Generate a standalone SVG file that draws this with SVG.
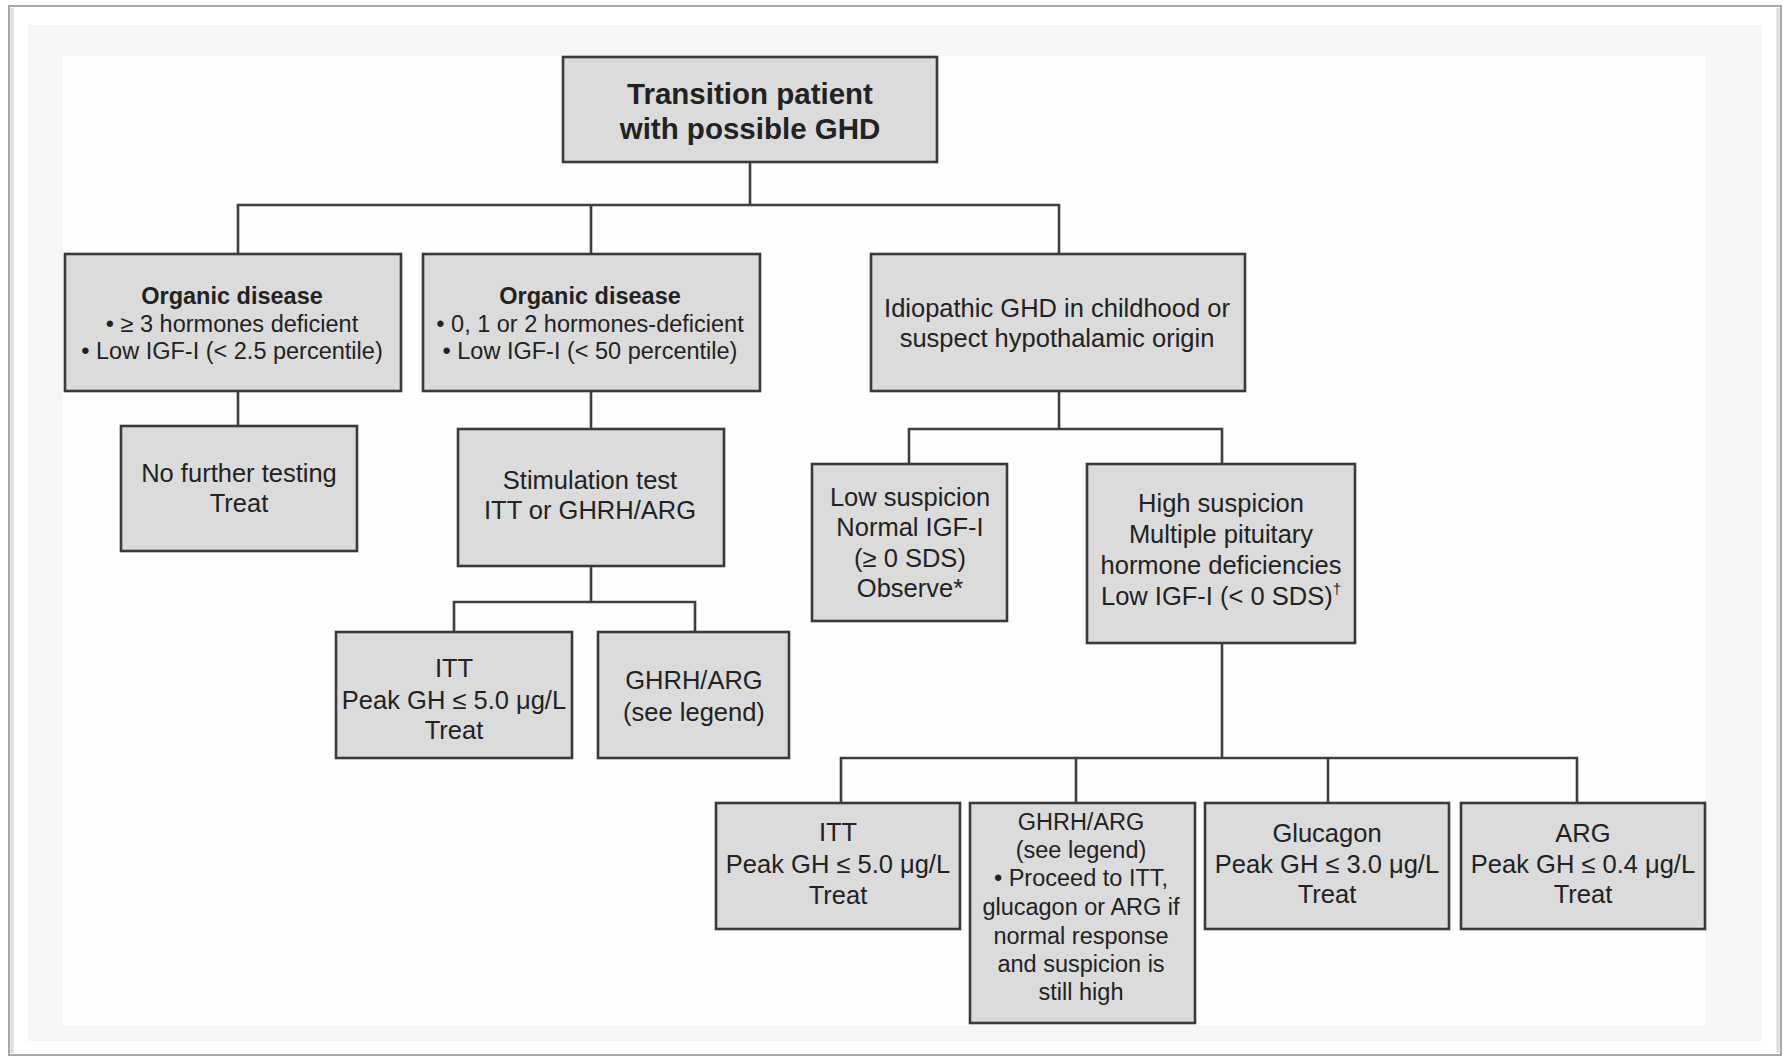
<svg xmlns="http://www.w3.org/2000/svg" width="1783" height="1057" viewBox="0 0 1783 1057">
<style>
.bg{fill:#ffffff}
.node rect{fill:#dbdbdb;stroke:#3a3a3a;stroke-width:2.6}
text{font-family:"Liberation Sans",Arial,Helvetica,sans-serif;fill:#222;text-anchor:middle}
.t{font-size:25.5px}
.s{font-size:23.5px}
.b{font-weight:bold}
.h{font-size:29.5px;font-weight:bold}
.sup{font-size:15px}
#connectors path{fill:none;stroke:#3f3f3f;stroke-width:2.6}
</style>
<rect x="0" y="0" width="1783" height="1057" fill="#ffffff"/>
<rect x="9" y="6" width="1772" height="1049" fill="#ffffff" stroke="#a8a8a8" stroke-width="2"/>
<line x1="12" y1="8" x2="12" y2="1053" stroke="#dcdcdc" stroke-width="3"/>
<line x1="1778" y1="8" x2="1778" y2="1053" stroke="#dcdcdc" stroke-width="3"/>
<rect x="28" y="25" width="1734" height="1016" fill="#f6f6f6"/>
<rect x="63" y="56" width="1642" height="969" fill="#fefefe"/>

<g id="connectors">
<path d="M750 162 V205"/>
<path d="M238 254 V205 H1059 V254"/>
<path d="M591 205 V254"/>
<path d="M238 391 V426"/>
<path d="M591 391 V429"/>
<path d="M591 566 V602"/>
<path d="M454 632 V602 H695 V632"/>
<path d="M1059 391 V429"/>
<path d="M909 464 V429 H1222 V464"/>
<path d="M1222 643 V758"/>
<path d="M841 803 V758 H1577 V803"/>
<path d="M1076 758 V803"/>
<path d="M1328 758 V803"/>
</g>

<g id="n-top" class="node">
<rect x="563" y="57" width="374" height="105"/>
<text class="h" x="750" y="104">Transition patient</text>
<text class="h" x="750" y="139">with possible GHD</text>
</g>

<g id="n-organic1" class="node">
<rect x="65" y="254" width="336" height="137"/>
<text class="s b" x="232" y="303.5">Organic disease</text>
<text class="s" x="232" y="331.5">• ≥ 3 hormones deficient</text>
<text class="s" x="232" y="358.5">• Low IGF-I (&lt; 2.5 percentile)</text>
</g>

<g id="n-organic2" class="node">
<rect x="423" y="254" width="337" height="137"/>
<text class="s b" x="590" y="303.5">Organic disease</text>
<text class="s" x="590" y="331.5">• 0, 1 or 2 hormones-deficient</text>
<text class="s" x="590" y="358.5">• Low IGF-I (&lt; 50 percentile)</text>
</g>

<g id="n-idiopathic" class="node">
<rect x="871" y="254" width="374" height="137"/>
<text class="t" x="1057" y="317">Idiopathic GHD in childhood or</text>
<text class="t" x="1057" y="347">suspect hypothalamic origin</text>
</g>

<g id="n-nofurther" class="node">
<rect x="121" y="426" width="236" height="125"/>
<text class="t" x="239" y="482">No further testing</text>
<text class="t" x="239" y="512">Treat</text>
</g>

<g id="n-stim" class="node">
<rect x="458" y="429" width="266" height="137"/>
<text class="t" x="590" y="489">Stimulation test</text>
<text class="t" x="590" y="519">ITT or GHRH/ARG</text>
</g>

<g id="n-itt1" class="node">
<rect x="336" y="632" width="236" height="126"/>
<text class="t" x="454" y="677">ITT</text>
<text class="t" x="454" y="709">Peak GH ≤ 5.0 μg/L</text>
<text class="t" x="454" y="739">Treat</text>
</g>

<g id="n-ghrh1" class="node">
<rect x="598" y="632" width="191" height="126"/>
<text class="t" x="694" y="689">GHRH/ARG</text>
<text class="t" x="694" y="721">(see legend)</text>
</g>

<g id="n-low" class="node">
<rect x="812" y="464" width="195" height="157"/>
<text class="t" x="910" y="506">Low suspicion</text>
<text class="t" x="910" y="536">Normal IGF-I</text>
<text class="t" x="910" y="567">(≥ 0 SDS)</text>
<text class="t" x="910" y="597">Observe*</text>
</g>

<g id="n-high" class="node">
<rect x="1087" y="464" width="268" height="179"/>
<text class="t" x="1221" y="512">High suspicion</text>
<text class="t" x="1221" y="543">Multiple pituitary</text>
<text class="t" x="1221" y="574">hormone deficiencies</text>
<text class="t" x="1221" y="605">Low IGF-I (&lt; 0 SDS)<tspan class="sup" dy="-11">†</tspan></text>
</g>

<g id="n-itt2" class="node">
<rect x="716" y="803" width="244" height="126"/>
<text class="t" x="838" y="841">ITT</text>
<text class="t" x="838" y="873">Peak GH ≤ 5.0 μg/L</text>
<text class="t" x="838" y="904">Treat</text>
</g>

<g id="n-ghrh2" class="node">
<rect x="970" y="803" width="225" height="220"/>
<text class="s" x="1081" y="829.5">GHRH/ARG</text>
<text class="s" x="1081" y="857.5">(see legend)</text>
<text class="s" x="1081" y="885.5">• Proceed to ITT,</text>
<text class="s" x="1081" y="914.5">glucagon or ARG if</text>
<text class="s" x="1081" y="943.5">normal response</text>
<text class="s" x="1081" y="971.5">and suspicion is</text>
<text class="s" x="1081" y="999.5">still high</text>
</g>

<g id="n-glucagon" class="node">
<rect x="1205" y="803" width="244" height="126"/>
<text class="t" x="1327" y="842">Glucagon</text>
<text class="t" x="1327" y="873">Peak GH ≤ 3.0 μg/L</text>
<text class="t" x="1327" y="903">Treat</text>
</g>

<g id="n-arg" class="node">
<rect x="1461" y="803" width="244" height="126"/>
<text class="t" x="1583" y="842">ARG</text>
<text class="t" x="1583" y="873">Peak GH ≤ 0.4 μg/L</text>
<text class="t" x="1583" y="903">Treat</text>
</g>
</svg>
